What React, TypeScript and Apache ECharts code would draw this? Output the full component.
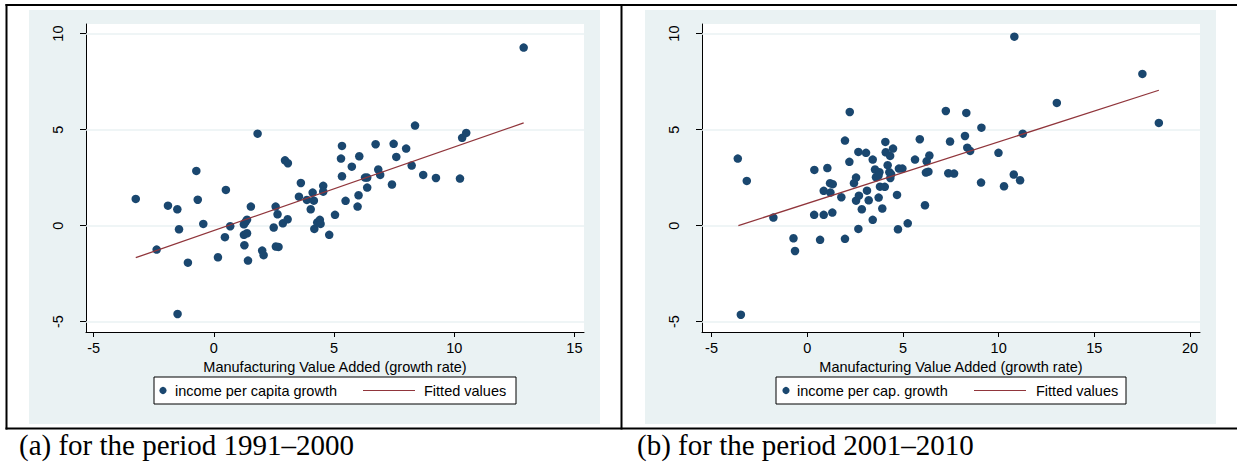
import React, { useEffect, useRef } from "react";
import * as echarts from "echarts";

// ---------- data ----------
const xTicksA = [-5, 0, 5, 10, 15];
const xTicksB = [-5, 0, 5, 10, 15, 20];
const yTicks = [-5, 0, 5, 10];

const namesA = ["income per capita growth", "Fitted values"];
const namesB = ["income per cap. growth", "Fitted values"];
const xTitle = "Manufacturing Value Added (growth rate)";
const captionA = "(a) for the period 1991–2000";
const captionB = "(b) for the period 2001–2010";

const pointsA = [
  [-3.25, 1.39], [-2.38, -1.25], [-1.91, 1.04], [-1.52, 0.85], [-1.45, -0.19],
  [-1.51, -4.6], [-1.08, -1.93], [-0.73, 2.85], [-0.67, 1.35], [-0.44, 0.09],
  [0.17, -1.65], [0.46, -0.6], [0.5, 1.86], [0.68, -0.03], [1.27, -1.02],
  [1.25, 0.07], [1.32, 0.2], [1.38, 0.31], [1.25, -0.48], [1.38, -0.4],
  [1.42, -1.82], [1.54, 0.99], [1.82, 4.79], [2.01, -1.3], [2.07, -1.54],
  [2.49, -0.1], [2.57, 0.99], [2.65, 0.59], [2.58, -1.09], [2.69, -1.11],
  [2.87, 0.12], [3.07, 0.33], [2.96, 3.4], [3.08, 3.25], [3.62, 2.22],
  [3.54, 1.51], [3.87, 1.34], [4.11, 1.72], [4.16, 1.3], [4.03, 0.85],
  [4.18, -0.17], [4.3, 0.16], [4.41, 0.3], [4.44, 0.09], [4.55, 2.07],
  [4.55, 1.77], [4.8, -0.48], [5.04, 0.56], [5.33, 4.15], [5.29, 3.49],
  [5.33, 2.57], [5.48, 1.29], [5.74, 3.07], [6.05, 3.61], [6.02, 1.58],
  [5.98, 0.99], [6.73, 4.24], [6.29, 2.5], [6.38, 2.5], [6.38, 1.98],
  [6.84, 2.92], [6.92, 2.64], [7.41, 2.14], [7.48, 4.26], [7.59, 3.58],
  [8.0, 4.01], [8.23, 3.13], [8.37, 5.21], [8.71, 2.64], [9.24, 2.48],
  [10.24, 2.45], [10.33, 4.57], [10.5, 4.83], [12.89, 9.27],
];
const fitA = [[-3.25, -1.67], [12.89, 5.35]];

const pointsB = [
  [-3.63, 3.49], [-3.16, 2.33], [-3.47, -4.64], [-1.77, 0.42], [-0.72, -0.66],
  [-0.64, -1.32], [0.37, 2.9], [0.36, 0.56], [0.86, 0.56], [0.67, -0.74],
  [0.86, 1.81], [1.05, 3.0], [1.19, 2.21], [1.33, 2.16], [1.21, 1.72],
  [1.31, 0.68], [1.78, 1.48], [1.97, 4.43], [1.97, -0.69], [2.22, 5.92],
  [2.2, 3.32], [2.44, 2.21], [2.55, 2.5], [2.55, 1.3], [2.7, 1.56],
  [2.67, -0.17], [2.85, 0.85], [2.67, 3.84], [3.07, 3.79], [3.12, 1.82],
  [3.21, 1.32], [3.42, 3.44], [3.42, 0.3], [3.54, 2.92], [3.59, 2.52],
  [3.77, 2.78], [3.72, 2.6], [3.73, 1.46], [3.92, 0.89], [3.8, 2.03],
  [4.05, 2.02], [4.08, 4.36], [4.1, 3.82], [4.33, 3.63], [4.48, 4.01],
  [4.2, 3.15], [4.29, 2.78], [4.34, 2.48], [4.38, 2.68], [4.69, 1.6],
  [4.74, -0.19], [4.79, 2.97], [4.97, 2.97], [5.25, 0.12], [5.63, 3.44],
  [5.88, 4.5], [6.15, 1.06], [6.2, 2.76], [6.33, 2.81], [6.24, 3.35],
  [6.38, 3.65], [7.24, 5.97], [7.46, 4.38], [7.37, 2.73], [7.67, 2.71],
  [8.31, 5.87], [8.24, 4.67], [8.36, 4.06], [8.51, 3.89], [9.1, 5.1],
  [9.08, 2.24], [9.99, 3.79], [10.28, 2.05], [10.79, 2.66], [11.12, 2.36],
  [10.82, 9.84], [11.26, 4.79], [13.04, 6.39], [17.51, 7.9], [18.37, 5.35],
];
const fitB = [[-3.6, 0.0], [18.37, 7.05]];

// ---------- styles ----------
const SANS = '"Liberation Sans", Arial, sans-serif';
const SERIF = '"Liberation Serif", "Times New Roman", serif';
const NAVY = "#1a476f";
const MAROON = "#90353b";
const PANEL = "#eaf2f3";
const FS = 14.5;

function makeXAxis(gridIndex: number, min: number, max: number, ticks: number[]) {
  return {
    type: "value",
    gridIndex,
    min,
    max,
    axisLine: { show: true, onZero: false, lineStyle: { color: "#000", width: 1 } },
    axisTick: { show: true, customValues: ticks, length: 5, lineStyle: { color: "#000", width: 1 } },
    axisLabel: { customValues: ticks, margin: 8, color: "#000", fontSize: FS, fontFamily: SANS },
    splitLine: { show: false },
    name: xTitle,
    nameLocation: "middle",
    nameGap: 24,
    nameTextStyle: { color: "#000", fontSize: FS, fontFamily: SANS },
  };
}

function makeYAxis(gridIndex: number) {
  return {
    type: "value",
    gridIndex,
    min: -5.54,
    max: 10.5,
    axisLine: { show: true, onZero: false, lineStyle: { color: "#000", width: 1 } },
    axisTick: { show: true, customValues: yTicks, length: 6, lineStyle: { color: "#000", width: 1 } },
    axisLabel: { customValues: yTicks, rotate: 90, margin: 21, color: "#000", fontSize: FS, fontFamily: SANS },
    splitLine: { show: false },
  };
}

function gridLines() {
  return {
    silent: true,
    symbol: "none",
    z: 1,
    label: { show: false },
    emphasis: { disabled: true },
    lineStyle: { color: PANEL, width: 1.6, type: "solid" },
    data: yTicks.map((v) => ({ yAxis: v })),
  };
}

function legendGroup(box: number[], marker: number, text1: number, line: number[], text2: number, names: string[]) {
  const cy = box[1] + box[3] / 2;
  return [
    { type: "rect", z: 100, shape: { x: box[0], y: box[1], width: box[2], height: box[3] }, style: { fill: "#fff", stroke: "#000", lineWidth: 1 } },
    { type: "circle", z: 101, shape: { cx: marker, cy, r: 3.6 }, style: { fill: NAVY } },
    { type: "text", z: 101, x: text1, y: cy, style: { text: names[0], fill: "#000", font: `${FS}px ${SANS}`, textAlign: "left", textVerticalAlign: "middle" } },
    { type: "line", z: 101, shape: { x1: line[0], y1: cy, x2: line[1], y2: cy }, style: { stroke: MAROON, lineWidth: 1.2 } },
    { type: "text", z: 101, x: text2, y: cy, style: { text: names[1], fill: "#000", font: `${FS}px ${SANS}`, textAlign: "left", textVerticalAlign: "middle" } },
  ];
}

export default function App() {
  const ref = useRef<HTMLDivElement>(null);
  useEffect(() => {
    if (!ref.current) return;
    const chart = echarts.init(ref.current, undefined, { renderer: "svg" });
    const option = {
      animation: false,
      backgroundColor: "#fff",
      grid: [
        { left: 86, right: 1237 - 584, top: 24, bottom: 463 - 332, show: true, backgroundColor: "#fff", borderWidth: 0, containLabel: false },
        { left: 702, right: 1237 - 1200, top: 24, bottom: 463 - 332, show: true, backgroundColor: "#fff", borderWidth: 0, containLabel: false },
      ],
      xAxis: [makeXAxis(0, -5.32, 15.4, xTicksA), makeXAxis(1, -5.5, 20.52, xTicksB)],
      yAxis: [makeYAxis(0), makeYAxis(1)],
      series: [
        {
          name: namesA[0], type: "scatter", xAxisIndex: 0, yAxisIndex: 0, z: 3,
          symbol: "circle", symbolSize: 8.5, itemStyle: { color: NAVY, opacity: 1 },
          data: pointsA, markLine: gridLines(),
        },
        {
          name: namesA[1], type: "line", xAxisIndex: 0, yAxisIndex: 0, z: 4,
          showSymbol: false, lineStyle: { color: MAROON, width: 1.3 }, data: fitA,
        },
        {
          name: namesB[0], type: "scatter", xAxisIndex: 1, yAxisIndex: 1, z: 3,
          symbol: "circle", symbolSize: 8.5, itemStyle: { color: NAVY, opacity: 1 },
          data: pointsB, markLine: gridLines(),
        },
        {
          name: namesB[1] + " ", type: "line", xAxisIndex: 1, yAxisIndex: 1, z: 4,
          showSymbol: false, lineStyle: { color: MAROON, width: 1.3 }, data: fitB,
        },
      ],
      graphic: {
        elements: [
          { type: "rect", z: -100, shape: { x: 29, y: 10, width: 571, height: 414 }, style: { fill: PANEL } },
          { type: "rect", z: -100, shape: { x: 645, y: 10, width: 571, height: 414 }, style: { fill: PANEL } },
          { type: "line", z: 100, shape: { x1: 5.5, y1: 5, x2: 1237, y2: 5 }, style: { stroke: "#000", lineWidth: 2 } },
          { type: "line", z: 100, shape: { x1: 6.5, y1: 4, x2: 6.5, y2: 429.5 }, style: { stroke: "#000", lineWidth: 2 } },
          { type: "line", z: 100, shape: { x1: 621.5, y1: 4, x2: 621.5, y2: 429.5 }, style: { stroke: "#000", lineWidth: 2 } },
          { type: "line", z: 100, shape: { x1: 5.5, y1: 428.5, x2: 1237, y2: 428.5 }, style: { stroke: "#000", lineWidth: 2 } },
          ...legendGroup([154, 377, 362, 27], 163, 175, [363, 415], 424, namesA),
          ...legendGroup([776, 377, 350, 27], 786, 797, [974, 1026], 1036, namesB),
          { type: "text", z: 100, x: 19, y: 445, style: { text: captionA, fill: "#000", font: `29px ${SERIF}`, textAlign: "left", textVerticalAlign: "middle" } },
          { type: "text", z: 100, x: 637, y: 445, style: { text: captionB, fill: "#000", font: `29px ${SERIF}`, textAlign: "left", textVerticalAlign: "middle" } },
        ],
      },
    };
    chart.setOption(option as any);
    return () => chart.dispose();
  }, []);
  return <div ref={ref} style={{ position: "absolute", left: 0, top: 0, width: 1237, height: 463 }} />;
}
